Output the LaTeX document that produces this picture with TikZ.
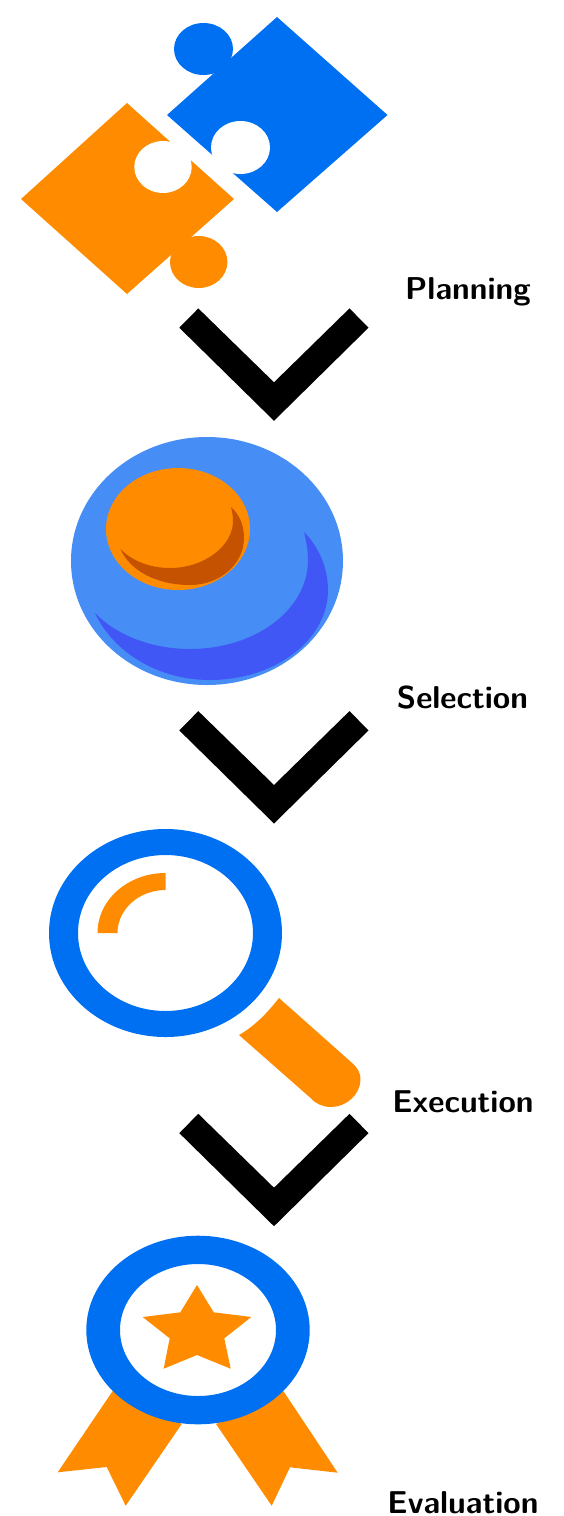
\documentclass[tikz,border=0pt]{standalone}
\definecolor{iconblue}{RGB}{0,112,243}
\definecolor{iconorange}{RGB}{255,140,0}
\definecolor{coinblue}{RGB}{70,141,245}
\definecolor{coinshade}{RGB}{65,87,245}
\definecolor{capshade}{RGB}{197,82,0}
\tikzset{
  lbl/.style={font=\fontsize{15.8}{18}\selectfont\sffamily\bfseries, anchor=base, inner sep=0pt},
  blue part/.style={fill=iconblue},
  orange part/.style={fill=iconorange}
}
\begin{document}
\begin{tikzpicture}[x=0.5pt,y=-0.5pt]
\useasboundingbox (0,0) rectangle (563,1516);
% puzzle
\fill[blue part] (277,17) -- (387.5,115) -- (277,212) -- (167,115) -- cycle;
\fill[blue part] (203.5,49) ellipse [x radius=29.5,y radius=26];
\fill[white] (240.5,147.5) ellipse [x radius=29.5,y radius=26.5];
\fill[orange part] (127,103) -- (234,199) -- (127,294) -- (21,199) -- cycle;
\fill[orange part] (198.7,262) ellipse [x radius=28.7,y radius=26];
\fill[white] (163,167) ellipse [x radius=28.7,y radius=26];
% coin
\fill[coinblue] (207,561) ellipse [x radius=136,y radius=124];
\fill[coinshade] (304,532) .. controls (318,546) and (328,567) .. (328,590)
  .. controls (328,640) and (275,680) .. (210,680)
  .. controls (158,680) and (113,652) .. (95,613)
  .. controls (115,634) and (150,649) .. (190,649)
  .. controls (255,649) and (308,610) .. (308,560)
  .. controls (308,550) and (306,540) .. (304,532) -- cycle;
\fill[orange part] (178,529) ellipse [x radius=72,y radius=61];
\fill[capshade] (231,507) .. controls (240,515) and (244,526) .. (244,538)
  .. controls (244,564) and (220,585) .. (190,585)
  .. controls (157,585) and (130,571) .. (120.5,549)
  .. controls (132,561) and (150,568) .. (170,568)
  .. controls (204,568) and (233,546) .. (233,521)
  .. controls (233,516) and (232,511) .. (231,507) -- cycle;
% magnifier
\fill[blue part, even odd rule] (165.5,933) ellipse [x radius=116.5,y radius=104]
  (165.5,933) ellipse [x radius=87.5,y radius=78];
\fill[orange part] (97.5,933) .. controls (97.5,899.9) and (127.9,873) .. (165.5,873)
  -- (165.5,890) .. controls (139,890) and (117.5,909.3) .. (117.5,933) -- cycle;
\fill[orange part] (279,998) -- (351,1062) .. controls (358,1068) and (361,1074) .. (360.5,1080)
  .. controls (360,1095) and (346,1107) .. (331,1107)
  .. controls (323,1107) and (316,1104) .. (310.6,1098) -- (239,1035)
  .. controls (255,1026) and (268,1012) .. (279,998) -- cycle;
% medal
\fill[orange part] (112.7,1391) -- (57.7,1472.3) -- (106.7,1467) -- (125.7,1505.7) -- (181.7,1424) -- cycle;
\fill[orange part] (283.3,1391) -- (337.7,1472.7) -- (290,1467.3) -- (271.7,1505.7) -- (216,1424) -- cycle;
\fill[blue part, even odd rule] (198,1330) ellipse [x radius=111.7,y radius=94.3]
  (198,1330) ellipse [x radius=78,y radius=66];
\fill[orange part] (197,1285) -- (213.7,1312.3) -- (251.3,1317) -- (224.3,1338.3) -- (230.7,1368.7)
  -- (197,1355) -- (163.7,1368.7) -- (169.7,1338.3) -- (142.7,1317) -- (180.3,1312.3) -- cycle;
% chevrons
\foreach \dy in {0,402.7,805.4}
  \fill[black] (198.3,308.4+\dy) -- (179.3,327.7+\dy) -- (274,420.8+\dy) -- (368.5,327.7+\dy) -- (349.5,308.4+\dy) -- (274,382.3+\dy) -- cycle;
\node[lbl] (planning) at (468,299) {Planning};
\node[lbl] (selection) at (462.5,708) {Selection};
\node[lbl] (execution) at (463,1112) {Execution};
\node[lbl] (evaluation) at (463,1513.3) {Evaluation};
\end{tikzpicture}
\end{document}
